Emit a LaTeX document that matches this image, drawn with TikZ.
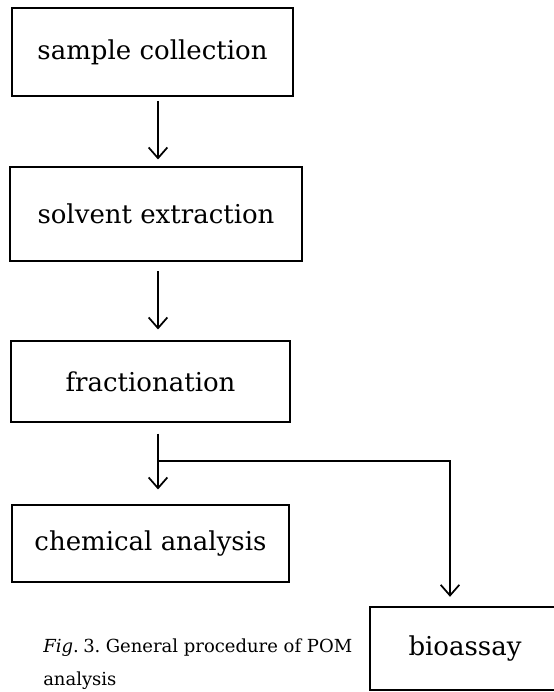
\documentclass[tikz,border=0pt]{standalone}
\usepackage{fontspec}
\setmainfont{DejaVu Serif}
\usepackage{tikz}
\usetikzlibrary{arrows.meta}

\tikzset{
  stage/.style={draw, line width=1.3pt, inner sep=0pt, font=\fontsize{19.5}{23}\selectfont},
  flow/.style={line width=1.3pt, -{Straight Barb[length=8pt,width=14pt,line width=1.3pt]}},
  capt/.style={anchor=base west, inner sep=0pt, font=\fontsize{13.5}{16}\selectfont},
}

\begin{document}
\begin{tikzpicture}[x=0.75pt,y=0.75pt,yscale=-1,xscale=1]
\useasboundingbox (0,0) rectangle (553,692);

%Shape: Rectangle [sample collection]
\node [stage, minimum width=210.75pt, minimum height=66pt] (sample) at (152.5,52) {sample collection};
%Shape: Rectangle [solvent extraction]
\node [stage, minimum width=219pt, minimum height=70.5pt] (solvent) at (156,214) {solvent extraction};
%Shape: Rectangle [fractionation]
\node [stage, minimum width=209.25pt, minimum height=60.75pt] (fraction) at (150.5,381.5) {fractionation};
%Shape: Rectangle [chemical analysis]
\node [stage, minimum width=207.75pt, minimum height=57.75pt] (chem) at (150.5,543.5) {chemical analysis};
%Shape: Rectangle [bioassay]
\node [stage, minimum width=142.5pt, minimum height=62.25pt] (bio) at (465,648.5) {bioassay};

\coordinate (spine) at (158,0);
\coordinate (branch) at (158,461);
\coordinate (drop) at (450,0);

%Straight Lines
\draw [flow, shorten <=3pt, shorten >=5pt] (sample.south -| spine) -- (solvent.north -| spine);
%Straight Lines
\draw [flow, shorten <=7pt, shorten >=8pt] (solvent.south -| spine) -- (fraction.north -| spine);
%Straight Lines
\draw [flow, shorten <=8pt, shorten >=11pt] (fraction.south -| spine) -- (chem.north -| spine);
%Straight Lines
\draw [flow, shorten >=7pt] (branch) -| (bio.north -| drop);

% Text Node
\node [capt] (caption) at (43,652) {{\itshape Fig}.\hspace{0.25em}3.\hspace{0.3em}General procedure of POM};
% Text Node
\node [capt] (caption2) at (43,685) {analysis};

\end{tikzpicture}
\end{document}
